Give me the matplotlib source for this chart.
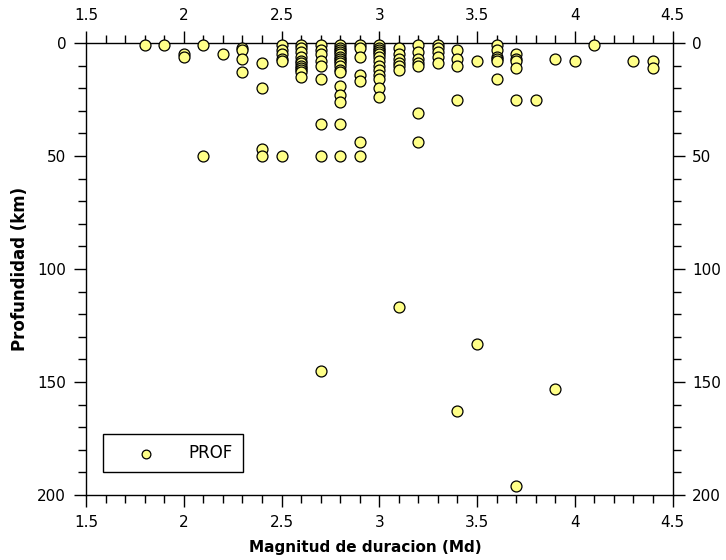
import numpy as np
import matplotlib
matplotlib.use("Agg")
from matplotlib import pyplot as plt
from matplotlib.ticker import MultipleLocator

# magnitude columns and the depths read for each one
mag_cols = [1.8, 1.9, 2.0, 2.1, 2.2, 2.3, 2.4, 2.5, 2.6, 2.7, 2.8, 2.9, 3.0,
            3.1, 3.2, 3.3, 3.4, 3.5, 3.6, 3.7, 3.8, 3.9, 4.0, 4.1, 4.3, 4.4]
depth_cols = [
    [1],
    [1],
    [5, 6],
    [1, 50],
    [5],
    [2, 3, 7, 13],
    [9, 20, 47, 50],
    [1, 3, 5, 7, 8, 50],
    [1, 2, 4, 6, 8, 9, 10, 11, 12, 13, 15],
    [1, 3, 5, 8, 10, 16, 36, 50, 145],
    [1, 2, 3, 4, 5, 6, 7, 8, 9, 10, 12, 13, 19, 23, 26, 36, 50],
    [1, 2, 6, 14, 17, 44, 50],
    [1, 2, 3, 4, 5, 6, 8, 10, 12, 14, 16, 20, 24],
    [2, 5, 7, 9, 10, 12, 117],
    [1, 4, 7, 9, 10, 31, 44],
    [1, 2, 4, 6, 9],
    [3, 7, 10, 25, 163],
    [8, 133],
    [1, 3, 6, 7, 8, 16],
    [5, 7, 8, 11, 25, 196],
    [25],
    [7, 153],
    [8],
    [1],
    [8],
    [8, 11],
]

mag = []
prof = []
for m, ds in zip(mag_cols, depth_cols):
    for d in ds:
        mag.append(m)
        prof.append(d)

plt.rcParams['font.family'] = 'DejaVu Sans'

fig = plt.figure(figsize=(7.26, 5.6), dpi=100)
ax = fig.add_axes([86 / 726, 1 - 495 / 560, 586.5 / 726, 452 / 560])

ax.scatter(mag, prof, s=62, facecolor='#ffff88', edgecolor='black',
           linewidth=0.9, zorder=5, clip_on=False, label='PROF')

ax.set_xlim(1.5, 4.5)
ax.set_ylim(200, 0)

ax.xaxis.set_major_locator(MultipleLocator(0.5))
ax.xaxis.set_minor_locator(MultipleLocator(0.1))
ax.yaxis.set_major_locator(MultipleLocator(50))
ax.yaxis.set_minor_locator(MultipleLocator(10))
ax.xaxis.set_major_formatter(plt.FuncFormatter(lambda v, p: f"{v:g}"))

ax.tick_params(which='both', direction='out', top=True, right=True,
               labeltop=True, labelright=True, labelsize=11, width=1)
ax.tick_params(which='major', length=8.8, pad=5.5)
ax.tick_params(which='minor', length=5.5)
for sp in ax.spines.values():
    sp.set_linewidth(1)

ax.set_xlabel('Magnitud de duracion (Md)', fontsize=11, fontweight='bold',
              x=0.477, labelpad=7)
ax.set_ylabel('Profundidad (km)', fontsize=12, fontweight='bold', labelpad=6)

leg = ax.legend(loc='lower left', bbox_to_anchor=(0.029, 0.05), fancybox=False,
                edgecolor='black', framealpha=1, fontsize=12, markerscale=0.8,
                scatterpoints=1, borderpad=0.6, handlelength=4.0,
                handletextpad=0.55, borderaxespad=0)
leg.get_frame().set_linewidth(1)

fig.savefig('out.png', dpi=100)
